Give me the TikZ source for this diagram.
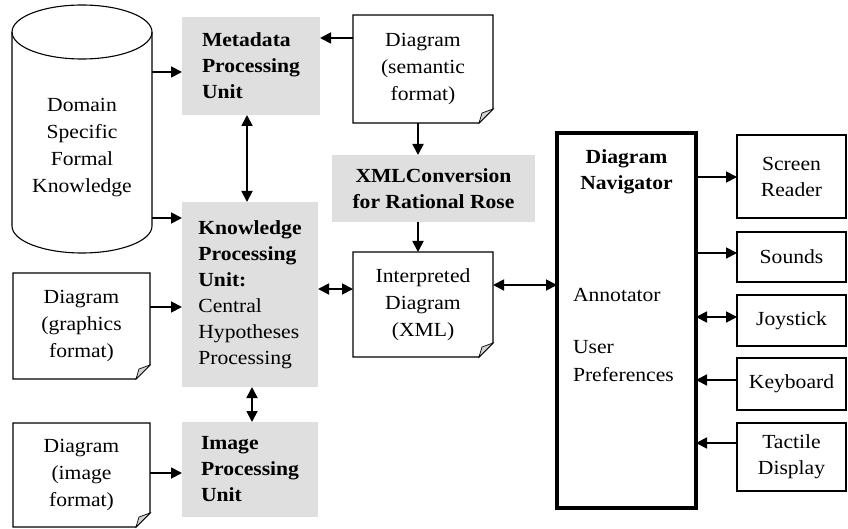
\documentclass[tikz,border=0pt]{standalone}
\usepackage{fontspec}
\setmainfont{Liberation Serif}[FakeStretch=1.08]
\usetikzlibrary{arrows.meta}
\begin{document}
\begin{tikzpicture}[x=1pt,y=-1pt,
  font=\fontsize{20}{27}\selectfont,
  every node/.style={inner sep=0pt,outer sep=0pt},
  graybox/.style={fill=gray!25,align=left,font=\fontsize{20}{26}\selectfont\bfseries},
  docbox/.style={align=center},
  outbox/.style={draw,line width=1.1pt,align=center,font=\fontsize{20}{26}\selectfont},
  arr/.style={line width=1.8pt,-{Triangle[length=11pt,width=11pt]}},
  darr/.style={line width=1.8pt,{Triangle[length=11pt,width=11pt]}-{Triangle[length=11pt,width=11pt]}}
]
\useasboundingbox (0,0) rectangle (848,529);
% cylinder
\draw[line width=1.1pt,fill=white] (12,32) -- (12,226) arc[start angle=180,end angle=360,x radius=70pt,y radius=27pt] -- (152,32);
\draw[line width=1.1pt] (82,32) ellipse [x radius=70pt, y radius=27pt];
\node[minimum width=140pt,minimum height=247pt] (cyl) at (82,128.5) {};
\node[align=center] (cyltxt) at (82,148) {Domain\\Specific\\Formal\\Knowledge};
% gray boxes
\node[graybox,minimum width=138pt,minimum height=98pt] (meta) at (251,66) {Metadata\\Processing\\Unit};
\node[graybox,minimum width=136pt,minimum height=185pt] (know) at (250,294.5) {Knowledge\\Processing\\Unit:\\\mdseries Central\\\mdseries Hypotheses\\\mdseries Processing};
\node[graybox,minimum width=136pt,minimum height=95pt] (img) at (250,469.5) {Image\\Processing\\Unit};
\node[graybox,align=center,minimum width=203pt,minimum height=67pt] (xml) at (433.5,188.5) {XMLConversion\\for Rational Rose};
% documents
\node[docbox,minimum width=140pt,minimum height=108pt] (sem) at (423,69) {Diagram\\(semantic\\format)};
\node[docbox,minimum width=140pt,minimum height=105pt] (interp) at (423,304.5) {Interpreted\\Diagram\\(XML)};
\node[docbox,minimum width=137pt,minimum height=106pt] (graph) at (81.5,326) {Diagram\\(graphics\\format)};
\node[docbox,minimum width=137pt,minimum height=104pt] (imgdoc) at (81.5,475) {Diagram\\(image\\format)};
\foreach \n in {sem,interp,graph,imgdoc}{
  \draw[line width=1.1pt] (\n.north west) -- (\n.north east) -- ([yshift=14pt]\n.south east) -- ([xshift=-14pt]\n.south east) -- (\n.south west) -- cycle;
  \draw[line width=0.7pt,fill=gray!35] ([yshift=14pt]\n.south east) -- ([xshift=-14pt]\n.south east) -- ([xshift=-11pt,yshift=10pt]\n.south east) -- cycle;
}
% navigator
\node[draw,line width=4pt,minimum width=139pt,minimum height=375pt] (nav) at (626.5,320.5) {};
\node[align=center,font=\fontsize{20}{26}\selectfont\bfseries] (navt) at (626.5,172) {Diagram\\Navigator};
\node[anchor=west] (ann) at (573,295) {Annotator};
\node[anchor=west,align=left,font=\fontsize{20}{28}\selectfont] (up) at (573,361) {User\\Preferences};
% output boxes
\node[outbox,minimum width=109pt,minimum height=83pt] (sr) at (791.5,176.5) {Screen\\Reader};
\node[outbox,minimum width=109pt,minimum height=50pt] (snd) at (791.5,257) {Sounds};
\node[outbox,minimum width=109pt,minimum height=51pt] (joy) at (791.5,320.5) {Joystick};
\node[outbox,minimum width=109pt,minimum height=52pt] (key) at (791.5,384) {Keyboard};
\node[outbox,minimum width=109pt,minimum height=68pt] (tac) at (791.5,457) {Tactile\\Display};
% connectors
\draw[arr] (cyl.east |- 0,72) -- (meta.west |- 0,72);
\draw[arr] (cyl.east |- 0,218) -- (know.west |- 0,218);
\draw[arr] (graph.east |- 0,307) -- (know.west |- 0,307);
\draw[arr] (imgdoc.east |- 0,473) -- (img.west |- 0,473);
\draw[darr] (meta.south -| 247,0) -- (know.north -| 247,0);
\draw[darr] (know.south -| 252,0) -- (img.north -| 252,0);
\draw[arr] (sem.west |- 0,38) -- (meta.east |- 0,38);
\draw[arr] (sem.south -| 418,0) -- (xml.north -| 418,0);
\draw[arr] (xml.south -| 418,0) -- (interp.north -| 418,0);
\draw[darr] (know.east |- 0,289) -- (interp.west |- 0,289);
\draw[darr] (interp.east |- 0,285) -- (nav.west |- 0,285);
\draw[arr] (nav.east |- 0,177) -- (sr.west |- 0,177);
\draw[arr] (nav.east |- 0,253) -- (snd.west |- 0,253);
\draw[darr] (nav.east |- 0,317) -- (joy.west |- 0,317);
\draw[arr] (key.west |- 0,380) -- (nav.east |- 0,380);
\draw[arr] (tac.west |- 0,443) -- (nav.east |- 0,443);
\end{tikzpicture}
\end{document}
